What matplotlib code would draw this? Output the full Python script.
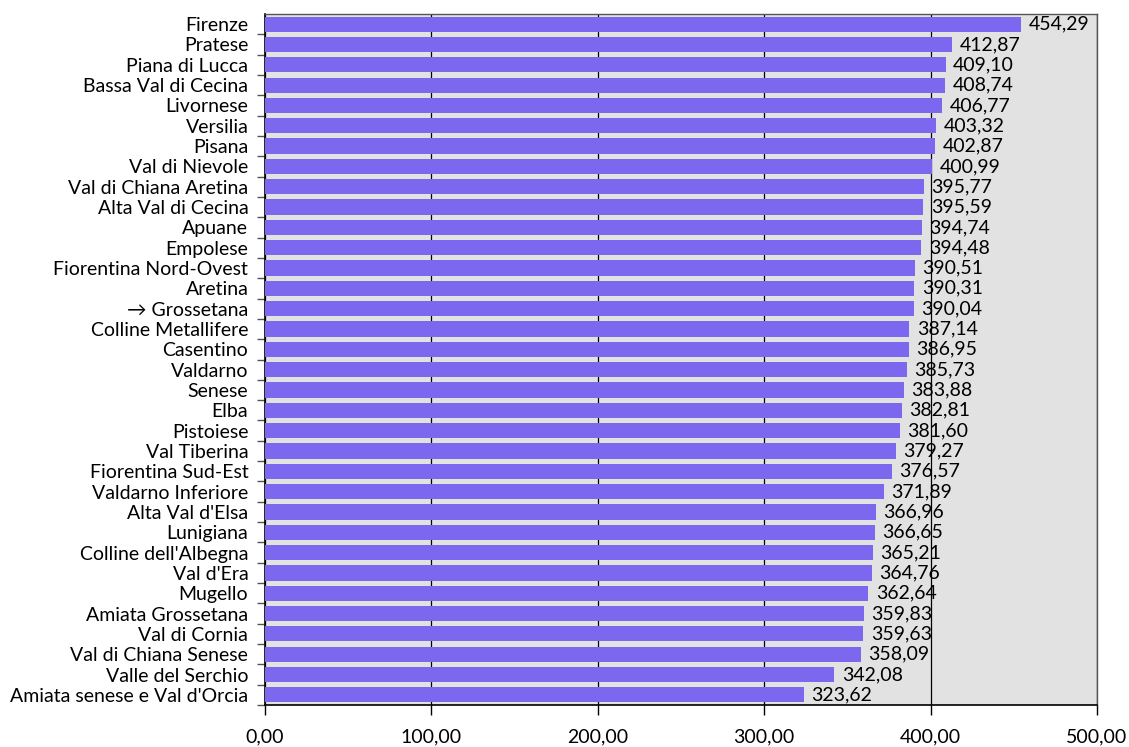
import matplotlib.pyplot as plt
import numpy as np

plt.rcParams['font.family'] = ['Lato', 'DejaVu Sans']

zone = ["Firenze", "Pratese", "Piana di Lucca", "Bassa Val di Cecina", "Livornese",
        "Versilia", "Pisana", "Val di Nievole", "Val di Chiana Aretina",
        "Alta Val di Cecina", "Apuane", "Empolese", "Fiorentina Nord-Ovest",
        "Aretina", "→ Grossetana", "Colline Metallifere", "Casentino", "Valdarno",
        "Senese", "Elba", "Pistoiese", "Val Tiberina", "Fiorentina Sud-Est",
        "Valdarno Inferiore", "Alta Val d'Elsa", "Lunigiana", "Colline dell'Albegna",
        "Val d'Era", "Mugello", "Amiata Grossetana", "Val di Cornia",
        "Val di Chiana Senese", "Valle del Serchio", "Amiata senese e Val d'Orcia"]
valori = [454.29, 412.87, 409.10, 408.74, 406.77, 403.32, 402.87, 400.99, 395.77,
          395.59, 394.74, 394.48, 390.51, 390.31, 390.04, 387.14, 386.95, 385.73,
          383.88, 382.81, 381.60, 379.27, 376.57, 371.89, 366.96, 366.65, 365.21,
          364.76, 362.64, 359.83, 359.63, 358.09, 342.08, 323.62]
xtick = [0, 100, 200, 300, 400, 500]


def fmt(v):
    return f"{v:.2f}".replace(".", ",")


fig = plt.figure(figsize=(11.29, 7.47), dpi=100)
ax = fig.add_axes([265 / 1129, 42 / 747, 832 / 1129, 691 / 747])
ax.set_facecolor('#e2e2e2')

y = np.arange(len(zone))
ax.barh(y, valori, height=0.75, color='#7b68ee', zorder=3)
for yi, v in zip(y, valori):
    ax.text(v + 4.5, yi, fmt(v), va='center', ha='left', fontsize=14, zorder=4)

ax.set_xlim(0, 500)
ax.set_ylim(len(zone) - 0.5, -0.5)
ax.set_xticks(xtick)
ax.set_xticklabels([fmt(t) for t in xtick], fontsize=14)
ax.tick_params(axis='x', length=7, width=1, pad=10, color='black')
ax.xaxis.grid(True, color='black', linewidth=0.9, zorder=1)

ax.set_yticks(y)
ax.set_yticklabels(zone, fontsize=14)
ax.tick_params(axis='y', which='major', length=0, pad=12)
ax.set_yticks(np.arange(len(zone)) + 0.5, minor=True)
ax.tick_params(axis='y', which='minor', length=6, width=1, color='#555555')

for s in ['left', 'bottom']:
    ax.spines[s].set_color('black')
    ax.spines[s].set_linewidth(1.2)
for s in ['top', 'right']:
    ax.spines[s].set_color('#555555')
    ax.spines[s].set_linewidth(1)

fig.savefig('out.png', dpi=100)
